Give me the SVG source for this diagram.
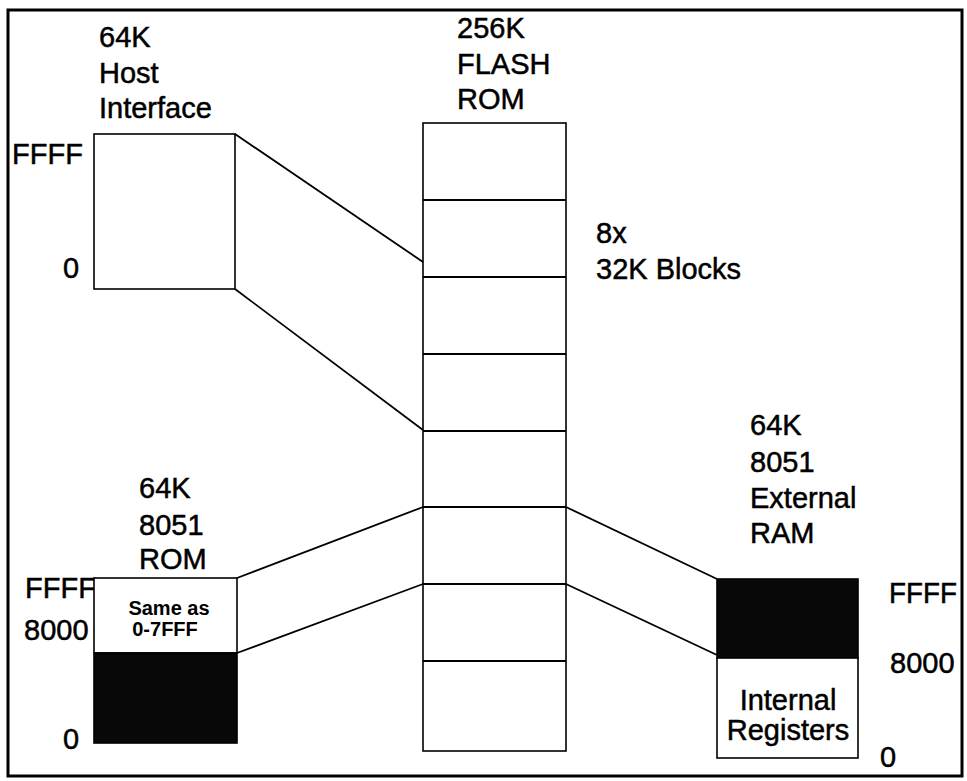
<svg xmlns="http://www.w3.org/2000/svg" width="967" height="781" viewBox="0 0 967 781">
<style>
.t{font-family:"Liberation Sans",Arial,sans-serif;font-size:29px;fill:#000;stroke:#000;stroke-width:0.5}
.s{font-family:"Liberation Sans",Arial,sans-serif;font-size:20px;font-weight:bold;fill:#000}
.box{fill:#fff;stroke:#000;stroke-width:1.6}
.blk{fill:#080808;stroke:#000;stroke-width:1.6}
.ln{stroke:#000;stroke-width:1.8;fill:none}
</style>
<rect x="8" y="10" width="954" height="766" fill="#fff" stroke="#000" stroke-width="3"/>
<g id="host">
<rect class="box" x="94" y="134" width="141" height="155"/>
<text class="t" x="99" y="47">64K</text>
<text class="t" x="99" y="83">Host</text>
<text class="t" x="99" y="118">Interface</text>
<text class="t" x="12" y="164">FFFF</text>
<text class="t" x="63" y="278">0</text>
</g>
<g id="flash">
<rect class="box" x="423" y="123" width="143" height="628"/>
<path class="ln" d="M423 200H566M423 277H566M423 354H566M423 431H566M423 507H566M423 584H566M423 661H566"/>
<text class="t" x="457" y="38">256K</text>
<text class="t" x="457" y="74">FLASH</text>
<text class="t" x="457" y="109">ROM</text>
<text class="t" x="596" y="243">8x</text>
<text class="t" x="596" y="279">32K Blocks</text>
</g>
<g id="rom">
<text class="t" x="25" y="598">FFFF</text>
<rect class="box" x="94" y="578" width="143" height="75"/>
<rect class="blk" x="94" y="653" width="143" height="90"/>
<text class="t" x="139" y="498">64K</text>
<text class="t" x="139" y="535">8051</text>
<text class="t" x="139" y="569">ROM</text>
<text class="s" x="169" y="615" text-anchor="middle">Same as</text>
<text class="s" x="165" y="636" text-anchor="middle">0-7FFF</text>
<text class="t" x="24" y="640">8000</text>
<text class="t" x="63" y="749">0</text>
</g>
<g id="ram">
<rect class="blk" x="717" y="579" width="141" height="79"/>
<rect class="box" x="717" y="658" width="141" height="100"/>
<text class="t" x="750" y="435">64K</text>
<text class="t" x="750" y="472">8051</text>
<text class="t" x="750" y="508">External</text>
<text class="t" x="750" y="543">RAM</text>
<text class="t" x="788" y="710" text-anchor="middle">Internal</text>
<text class="t" x="788" y="740" text-anchor="middle">Registers</text>
<text class="t" x="889" y="603" textLength="68" lengthAdjust="spacingAndGlyphs">FFFF</text>
<text class="t" x="890" y="673">8000</text>
<text class="t" x="880" y="767">0</text>
</g>
<g id="connectors">
<path class="ln" d="M235 134L423 262"/>
<path class="ln" d="M235 289L423 430"/>
<path class="ln" d="M237 578L423 507"/>
<path class="ln" d="M237 653L423 584"/>
<path class="ln" d="M566 507L717 579"/>
<path class="ln" d="M566 584L717 655"/>
</g>
</svg>
